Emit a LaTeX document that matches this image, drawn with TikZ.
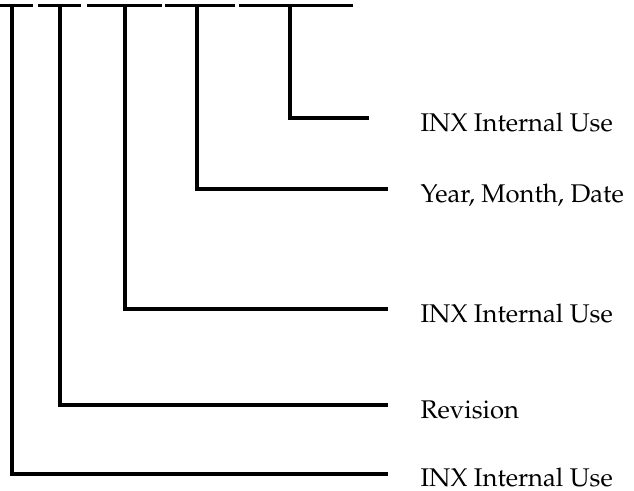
\documentclass[tikz,border=0pt]{standalone}
\usepackage[T1]{fontenc}
\usepackage{mathpazo}
\usetikzlibrary{positioning}

\begin{document}
\begin{tikzpicture}[x=1pt,y=-1pt,line width=3.2pt,
    lbl/.style={anchor=base west,inner sep=0pt,font=\fontsize{25.6}{30}\selectfont}]
    \useasboundingbox (0,0) rectangle (634,490);

    % underline pieces of the code
    \coordinate (U1a) at (0,5.5);   \coordinate (U1b) at (33,5.5);
    \coordinate (U2a) at (38,5.5);  \coordinate (U2b) at (81,5.5);
    \coordinate (U3a) at (87,5.5);  \coordinate (U3b) at (162,5.5);
    \coordinate (U4a) at (165,5.5); \coordinate (U4b) at (235,5.5);
    \coordinate (U5a) at (239,5.5); \coordinate (U5b) at (353,5.5);

    \draw (U1a)--(U1b);
    \draw (U2a)--(U2b);
    \draw (U3a)--(U3b);
    \draw (U4a)--(U4b);
    \draw (U5a)--(U5b);

    \coordinate (A) at (12,5.5);
    \coordinate (B) at (60,5.5);
    \coordinate (C) at (125,5.5);
    \coordinate (D) at (197,5.5);
    \coordinate (E) at (290,5.5);

    \coordinate (A') at (12,474);
    \coordinate (B') at (60,405);
    \coordinate (C') at (125,309);
    \coordinate (D') at (197,189);
    \coordinate (E') at (290,118);

    \coordinate (A'') at (388,474);
    \coordinate (B'') at (388,405);
    \coordinate (C'') at (388,309);
    \coordinate (D'') at (388,189);
    \coordinate (E'') at (369,118);

    \draw (A)--(A')--(A'');
    \draw (B)--(B')--(B'');
    \draw (C)--(C')--(C'');
    \draw (D)--(D')--(D'');
    \draw (E)--(E')--(E'');

    \node[lbl] (e) at (419,131) {INX Internal Use};
    \node[lbl] (d) at (419,202) {Year, Month, Date};
    \node[lbl] (c) at (419,322) {INX Internal Use};
    \node[lbl] (b) at (419,418) {Revision};
    \node[lbl] (a) at (419,486.5) {INX Internal Use};
\end{tikzpicture}
\end{document}
